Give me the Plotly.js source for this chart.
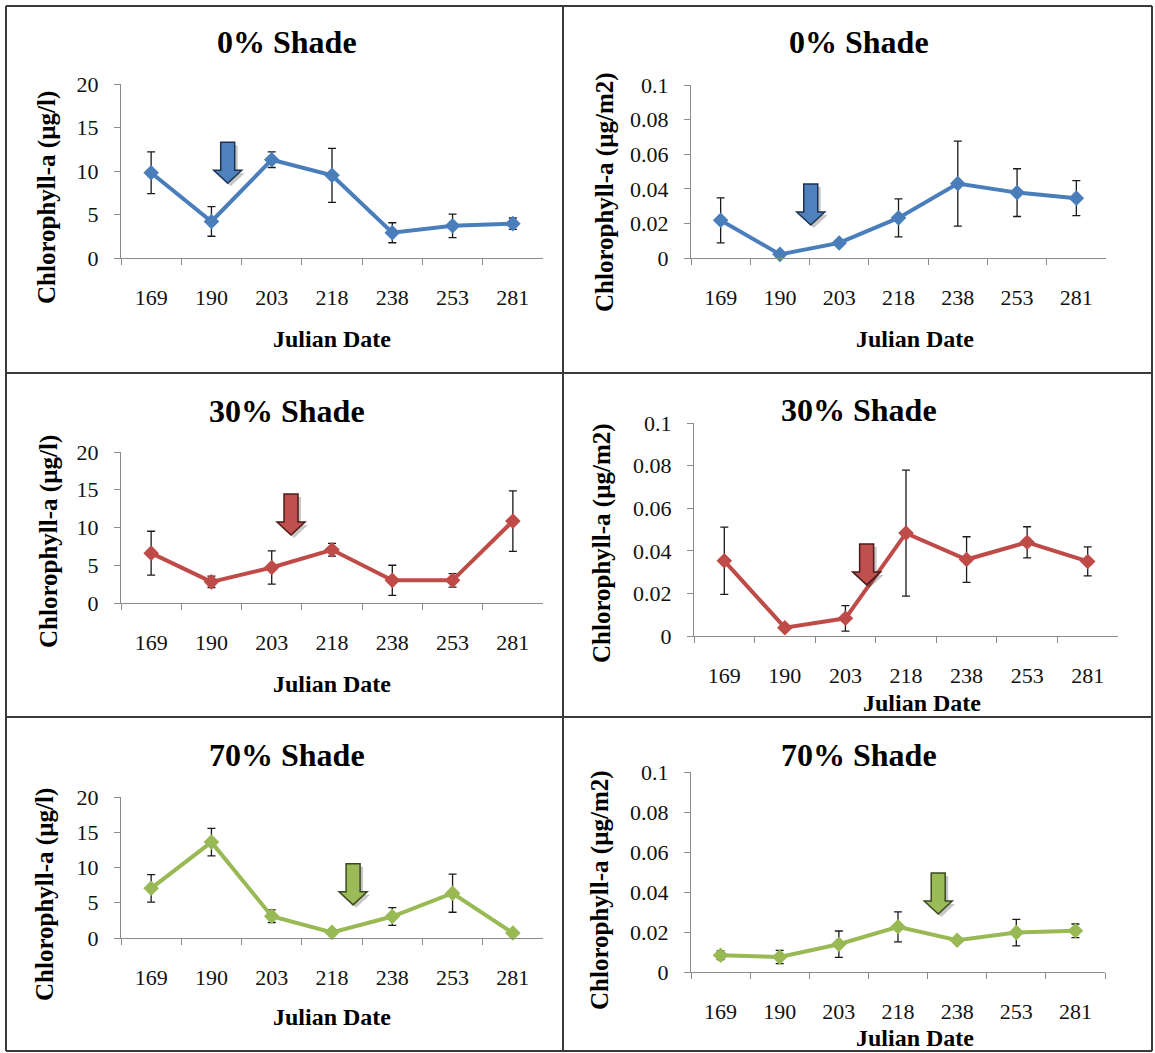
<!DOCTYPE html>
<html><head><meta charset="utf-8">
<script src="https://cdn.plot.ly/plotly-3.0.1.min.js"></script>
<style>body{margin:0;background:#fff}#chart{width:1155px;height:1053px}</style>
</head><body><div id="chart"></div>
<script>
// ---- data ----
const julianDates = ['169','190','203','218','238','253','281'];
const panelTitles = ['0% Shade','0% Shade','30% Shade','30% Shade','70% Shade','70% Shade'];
const yTitleVolume = 'Chlorophyll-a (µg/l)';
const yTitleArea = 'Chlorophyll-a (µg/m2)';
const xTitleText = 'Julian Date';

const shade0Vol = [9.8, 4.2, 11.3, 9.5, 2.9, 3.7, 3.95];
const shade0VolErr = [2.4, 1.7, 0.9, 3.1, 1.15, 1.35, 0.65];
const shade0Area = [0.0218, 0.0021, 0.0087, 0.0232, 0.043, 0.0378, 0.0346];
const shade0AreaErr = [0.013, 0, 0.0008, 0.011, 0.0246, 0.0138, 0.0101];

const shade30Vol = [6.6, 2.8, 4.7, 7.05, 3.0, 3.0, 10.85];
const shade30VolErr = [2.9, 0.75, 2.2, 0.85, 2.0, 0.9, 4.0];
const shade30Area = [0.0353, 0.0039, 0.0083, 0.0483, 0.0359, 0.044, 0.035];
const shade30AreaErr = [0.0158, 0, 0.006, 0.0296, 0.0107, 0.0073, 0.0068];

const shade70Vol = [7.05, 13.6, 3.1, 0.8, 3.05, 6.35, 0.7];
const shade70VolErr = [1.95, 1.95, 0.9, 0, 1.25, 2.7, 0];
const shade70Area = [0.0084, 0.0075, 0.0139, 0.0226, 0.0159, 0.0197, 0.0206];
const shade70AreaErr = [0.0022, 0.0033, 0.0066, 0.0075, 0, 0.0066, 0.0034];

// arrow tip positions (category index, value)
const arrowX = [1.27, 1.52, 2.32, 2.35, 3.35, 3.68];
const arrowY = [8.6, 0.0191, 9.0, 0.024, 4.7, 0.029];

// ---- styling / layout ----
const W = 1155, H = 1053;
const FONT = 'Liberation Serif, Times New Roman, serif';
const colors = ['#4A7EBB','#4A7EBB','#BE4B48','#BE4B48','#98B954','#98B954'];
const arrowFill = ['#4F81BD','#4F81BD','#C0504D','#C0504D','#9BBB59','#9BBB59'];
const arrowLine = ['#1F3350','#1F3350','#4A1C1B','#4A1C1B','#3A4A20','#3A4A20'];

const series = [shade0Vol, shade0Area, shade30Vol, shade30Area, shade70Vol, shade70Area];
const errs = [shade0VolErr, shade0AreaErr, shade30VolErr, shade30AreaErr, shade70VolErr, shade70AreaErr];

// plot area pixel boxes: [x0, x1, yTop, yBottom]
const boxes = [
  [121, 543, 84, 258],
  [691, 1106, 85, 258],
  [121, 543, 452, 603],
  [694, 1118, 423, 636],
  [121, 543, 797, 938],
  [691, 1105, 772, 972]
];
const titlePos = [[287,42],[859,42],[287,411],[859,410],[287,755],[859,755]];
const xTitlePos = [[332,339],[915,339],[332,684],[922,703],[332,1017],[915,1038]];
const yTitlePos = [[47,198],[605,192],[49,542],[602,543],[45,895],[600,890]];

const px = v => v / W;
const py = v => 1 - v / H;

const traces = [];
const layout = {
  width: W, height: H,
  margin: {l:0, r:0, t:0, b:0},
  paper_bgcolor: '#ffffff', plot_bgcolor: '#ffffff',
  showlegend: false,
  font: {family: FONT, color: '#000'},
  annotations: [], shapes: []
};

for (let i = 0; i < 6; i++) {
  const n = i + 1;
  const sfx = (n === 1 ? '' : String(n));
  const isArea = (i % 2 === 1);
  const b = boxes[i];
  traces.push({
    type: 'scatter', mode: 'lines+markers',
    x: julianDates, y: series[i],
    xaxis: 'x' + sfx, yaxis: 'y' + sfx,
    line: {color: colors[i], width: 4},
    marker: {symbol: 'diamond', size: 12, color: colors[i]},
    error_y: {type: 'data', array: errs[i], visible: true, color: '#1a1a1a', thickness: 1.3, width: 4},
    cliponaxis: false
  });
  layout['xaxis' + sfx] = {
    domain: [px(b[0]), px(b[1])],
    anchor: 'y' + sfx,
    type: 'category', range: [-0.5, 6.5],
    showline: true, linecolor: '#8a8a8a', linewidth: 1,
    ticks: 'outside', tickson: 'boundaries', ticklen: 6, tickcolor: '#8a8a8a',
    tickfont: {family: FONT, size: 22, color: '#111'},
    ticklabelstandoff: 20,
    showgrid: false, zeroline: false, fixedrange: true
  };
  layout['yaxis' + sfx] = {
    domain: [py(b[3]), py(b[2])],
    anchor: 'x' + sfx,
    range: isArea ? [0, 0.1] : [0, 20],
    dtick: isArea ? 0.02 : 5,
    showline: true, linecolor: '#8a8a8a', linewidth: 1,
    ticks: 'outside', ticklen: 6, tickcolor: '#8a8a8a',
    tickfont: {family: FONT, size: 22, color: '#111'},
    ticklabelstandoff: 11,
    showgrid: false, zeroline: false, fixedrange: true
  };
  layout.annotations.push({
    xref: 'paper', yref: 'paper', x: px(titlePos[i][0]), y: py(titlePos[i][1]),
    xanchor: 'center', yanchor: 'middle', showarrow: false,
    text: '<b>' + panelTitles[i] + '</b>', font: {family: FONT, size: 32, color: '#000'}
  });
  layout.annotations.push({
    xref: 'paper', yref: 'paper', x: px(xTitlePos[i][0]), y: py(xTitlePos[i][1]),
    xanchor: 'center', yanchor: 'middle', showarrow: false,
    text: '<b>' + xTitleText + '</b>', font: {family: FONT, size: 24, color: '#000'}
  });
  layout.annotations.push({
    xref: 'paper', yref: 'paper', x: px(yTitlePos[i][0]), y: py(yTitlePos[i][1]),
    xanchor: 'center', yanchor: 'middle', showarrow: false, textangle: -90,
    text: '<b>' + (isArea ? yTitleArea : yTitleVolume) + '</b>', font: {family: FONT, size: 25, color: '#000'}
  });
  // arrow shadow and arrow (pixel-sized, anchored at tip)
  const arrowPath = 'M0,0 L-14,13 L-7,13 L-7,41 L7,41 L7,13 L14,13 Z';
  const shadowPath = 'M3,-3 L-11,10 L-4,10 L-4,38 L10,38 L10,10 L17,10 Z';
  const common = {
    type: 'path', xref: 'x' + sfx, yref: 'y' + sfx,
    xsizemode: 'pixel', ysizemode: 'pixel', xanchor: arrowX[i], yanchor: arrowY[i]
  };
  layout.shapes.push(Object.assign({}, common, {path: shadowPath, fillcolor: 'rgba(0,0,0,0.22)', line: {width: 0}}));
  layout.shapes.push(Object.assign({}, common, {path: arrowPath, fillcolor: arrowFill[i], line: {color: arrowLine[i], width: 1.5}}));
}

// panel borders
const bc = '#3a3a3a';
function seg(x0, y0, x1, y1) {
  return {type: 'line', xref: 'paper', yref: 'paper', x0: px(x0), y0: py(y0), x1: px(x1), y1: py(y1), line: {color: bc, width: 2}};
}
layout.shapes.push(seg(6, 6, 1152, 6));
layout.shapes.push(seg(6, 1051, 1152, 1051));
layout.shapes.push(seg(6, 6, 6, 1051));
layout.shapes.push(seg(1152, 6, 1152, 1051));
layout.shapes.push(seg(563, 6, 563, 1051));
layout.shapes.push(seg(6, 373, 1152, 373));
layout.shapes.push(seg(6, 717, 1152, 717));

Plotly.newPlot('chart', traces, layout, {displayModeBar: false, staticPlot: true});
</script>
</body></html>
